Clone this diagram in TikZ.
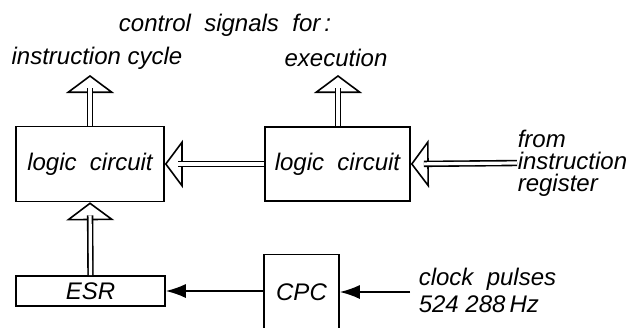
\documentclass[tikz,border=0pt]{standalone}
\usepackage{fontspec}
\setmainfont{Liberation Sans}
\usetikzlibrary{arrows.meta}
\begin{document}
\begin{tikzpicture}[x=0.5pt, y=-0.5pt, line width=0.8pt,
    every node/.style={font=\fontsize{12}{11}\selectfont\itshape, inner sep=0pt},
    box/.style={draw, rectangle},
    hollow/.style={-{Triangle[open, length=9pt, width=24pt]},
        postaction={draw, -, double, double distance=1.6pt, shorten >=6.5pt}},
    thin/.style={-{Latex[length=10pt, width=7pt]}}]
    \useasboundingbox (0,0) rectangle (632,327);
    % blocks
    \node[box, minimum width=74pt, minimum height=37.5pt] (lc1) at (90,164) {logic\ \ circuit};
    \node[box, minimum width=72.5pt, minimum height=37pt] (lc2) at (337.5,164) {logic\ \ circuit};
    \node[box, minimum width=74.5pt, minimum height=15pt] (esr) at (90.5,291) {ESR};
    \node[box, minimum width=37.5pt, minimum height=38pt] (cpc) at (301.5,292.5) {CPC};
    % texts
    \node (ctl) at (225,25) {control\ \ signals\ \ for\,:};
    \node (ic) at (97,58) {instruction\ cycle};
    \node (ex) at (336,58) {execution};
    \node[anchor=west, align=left] (ir) at (517,163) {from\\instruction\\register};
    \node[anchor=west, align=left, font=\fontsize{12}{13.5}\selectfont\itshape] (clk) at (418,290) {clock\ \ pulses\\524 288\,Hz};
    % connectors
    \coordinate (o1) at (90,75);
    \coordinate (o2) at (338,75);
    \draw[hollow] (lc1.north) -- (o1);
    \draw[hollow] (lc2.north -| o2) -- (o2);
    \draw[hollow] (lc2.west) -- (lc1.east);
    \draw[hollow] (ir.west) -- (lc2.east);
    \draw[hollow] (esr.north) -- (lc1.south);
    \draw[thin] (cpc.west |- esr.east) -- (esr.east);
    \draw[thin] (410,292) coordinate (c0) -- (cpc.east |- c0);
\end{tikzpicture}
\end{document}
